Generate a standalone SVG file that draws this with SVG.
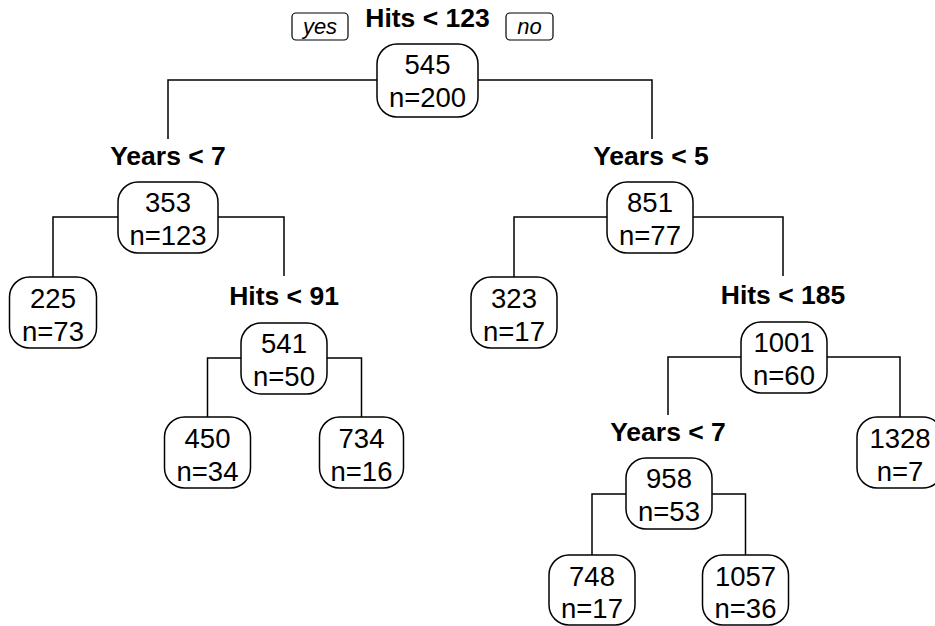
<svg xmlns="http://www.w3.org/2000/svg" width="935" height="626" viewBox="0 0 935 626">
<style>
.bg{fill:#fff}
.edge{stroke:#000;stroke-width:1.5;fill:none}
.box{fill:#fff;stroke:#000;stroke-width:1.5}
.t{font-family:"Liberation Sans",Arial,sans-serif;font-size:27.5px;text-anchor:middle;fill:#000}
.split{font-family:"Liberation Sans",Arial,sans-serif;font-size:26.5px;font-weight:bold;text-anchor:middle;fill:#000}
.yn{font-family:"Liberation Sans",Arial,sans-serif;font-size:22px;font-style:italic;text-anchor:middle;fill:#000}
.ynbox{fill:#fff;stroke:#000;stroke-width:1.2}
</style>
<rect class="bg" x="0" y="0" width="935" height="626"/>
<g id="connectors">
<path class="edge" d="M168,139V80H652V139"/>
<path class="edge" d="M53,277V217H284V276"/>
<path class="edge" d="M514,277V217H783V276"/>
<path class="edge" d="M207.5,417V358H361.5V417"/>
<path class="edge" d="M668,415V357H900V417"/>
<path class="edge" d="M592,555V494H745.5V555"/>
</g>
<g id="yes-label"><rect class="ynbox" x="292" y="13" width="56" height="27" rx="4"/><text class="yn" x="320" y="34">yes</text></g>
<g id="no-label"><rect class="ynbox" x="506" y="13" width="47" height="27" rx="4"/><text class="yn" x="529.5" y="34">no</text></g>
<g id="n1"><text class="split" x="427.5" y="27">Hits &lt; 123</text><rect class="box" x="377" y="44" width="101" height="73" rx="20"/><text class="t" x="427.5" y="74">545</text><text class="t" x="427.5" y="107">n=200</text></g>
<g id="n2"><text class="split" x="168" y="165">Years &lt; 7</text><rect class="box" x="118" y="182" width="100" height="71" rx="20"/><text class="t" x="168" y="212">353</text><text class="t" x="168" y="245">n=123</text></g>
<g id="n3"><text class="split" x="651" y="165">Years &lt; 5</text><rect class="box" x="607" y="182" width="86" height="71" rx="20"/><text class="t" x="650" y="212">851</text><text class="t" x="650" y="245">n=77</text></g>
<g id="n4"><rect class="box" x="9.5" y="277" width="87" height="71" rx="20"/><text class="t" x="53" y="308">225</text><text class="t" x="53" y="341">n=73</text></g>
<g id="n5"><text class="split" x="284" y="305">Hits &lt; 91</text><rect class="box" x="241" y="323" width="86" height="71" rx="20"/><text class="t" x="284" y="353">541</text><text class="t" x="284" y="386">n=50</text></g>
<g id="n6"><rect class="box" x="471" y="277" width="86" height="71" rx="20"/><text class="t" x="514" y="308">323</text><text class="t" x="514" y="341">n=17</text></g>
<g id="n7"><text class="split" x="783" y="304">Hits &lt; 185</text><rect class="box" x="741" y="322" width="86" height="71" rx="20"/><text class="t" x="784" y="352">1001</text><text class="t" x="784" y="385">n=60</text></g>
<g id="n8"><rect class="box" x="164.5" y="417" width="86" height="71" rx="20"/><text class="t" x="207.5" y="448">450</text><text class="t" x="207.5" y="481">n=34</text></g>
<g id="n9"><rect class="box" x="319.5" y="417" width="84" height="71" rx="20"/><text class="t" x="361.5" y="448">734</text><text class="t" x="361.5" y="481">n=16</text></g>
<g id="n10"><text class="split" x="668" y="441">Years &lt; 7</text><rect class="box" x="626" y="458" width="86" height="71" rx="20"/><text class="t" x="669" y="488">958</text><text class="t" x="669" y="521">n=53</text></g>
<g id="n11"><rect class="box" x="857" y="417" width="86" height="71" rx="20"/><text class="t" x="900" y="448">1328</text><text class="t" x="900" y="481">n=7</text></g>
<g id="n12"><rect class="box" x="549" y="555" width="86" height="70" rx="20"/><text class="t" x="592" y="586">748</text><text class="t" x="592" y="618">n=17</text></g>
<g id="n13"><rect class="box" x="702.5" y="555" width="86" height="70" rx="20"/><text class="t" x="745.5" y="586">1057</text><text class="t" x="745.5" y="618">n=36</text></g>
</svg>
